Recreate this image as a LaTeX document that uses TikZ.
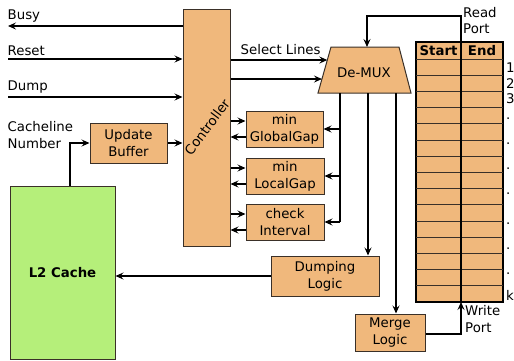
\documentclass[tikz,border=0pt]{standalone}
\usepackage{fontspec}
\setmainfont{DejaVu Sans}
\usetikzlibrary{arrows.meta,calc}

\definecolor{boxfill}{HTML}{F0B87C}
\definecolor{cachefill}{HTML}{B5EF7A}
\definecolor{boxline}{HTML}{3A3028}

\begin{document}
\begin{tikzpicture}[x=1pt,y=1pt,
  every node/.style={font=\fontsize{13.3}{17}\selectfont, inner sep=0pt, text=black},
  blk/.style={draw=boxline, line width=1pt, fill=boxfill, align=center},
  wire/.style={line width=1.3pt, -{Stealth[length=8pt,width=7pt,inset=3pt]}},
  plain/.style={line width=1.3pt},
  lbl/.style={anchor=base west}
]
\useasboundingbox (0,-360) rectangle (514,0);

% ---------- blocks ----------
\node[blk, minimum width=47pt, minimum height=237pt] (ctrl) at (206.5,-127.5) {};
\node[rotate=53] (ctrltext) at (207,-127) {Controller};
\node[blk, minimum width=77pt, minimum height=40pt] (update) at (128.5,-143) {Update\\Buffer};
\node[draw=boxline, line width=1pt, fill=cachefill, minimum width=105pt, minimum height=173pt,
      font=\fontsize{13.3}{17}\selectfont\bfseries] (l2) at (62.5,-272.5) {L2 Cache};
\node[blk, minimum width=77pt, minimum height=36pt] (global) at (284.5,-129) {min\\GlobalGap};
\node[blk, minimum width=78pt, minimum height=36pt] (local) at (285,-176) {min\\LocalGap};
\node[blk, minimum width=78pt, minimum height=36pt] (check) at (285,-222) {check\\Interval};
\node[blk, minimum width=108pt, minimum height=40pt] (dump) at (325,-276) {Dumping\\Logic};
\node[blk, minimum width=70pt, minimum height=37pt] (merge) at (390,-332.5) {Merge\\Logic};

% De-MUX trapezoid
\coordinate (dmbl) at (318,-93);
\coordinate (dmtl) at (331,-47);
\coordinate (dmtr) at (399,-47);
\coordinate (dmbr) at (411,-93);
\draw[blk] (dmbl) -- (dmtl) -- (dmtr) -- (dmbr) -- cycle;
\node (demux) at (364,-73) {De-MUX};

% ---------- table of intervals ----------
\node[draw=black, line width=1.2pt, fill=boxfill, minimum width=87pt, minimum height=260pt] (tbl) at (459.5,-172) {};
\foreach \i in {0,...,14}
  \draw[boxline, line width=1pt] (416,-59-16.2*\i) -- (503,-59-16.2*\i);
\draw[black, line width=1.2pt] (461,-42) -- (461,-302);
\node[font=\fontsize{13.3}{17}\selectfont\bfseries] (hstart) at (438.5,-51) {Start};
\node[font=\fontsize{13.3}{17}\selectfont\bfseries] (hend) at (482,-51) {End};
\node[lbl] (r1) at (506,-72) {1};
\node[lbl] (r2) at (506,-88) {2};
\node[lbl] (r3) at (506,-103) {3};
\foreach \y in {119,144,169,194,224,249,274}
  \node[lbl] at (506,-\y) {.};
\node[lbl] (rk) at (506,-300) {k};

% ---------- external signals ----------
\coordinate (busyend) at (8,-26);
\coordinate (resetin) at (8,-59);
\coordinate (dumpin) at (8,-97);
\node[lbl] (busy) at (7.5,-19) {Busy};
\node[lbl] (reset) at (7.5,-55) {Reset};
\node[lbl] (dumpl) at (7.5,-90) {Dump};
\node[lbl] (cl1) at (7.5,-131) {Cacheline};
\node[lbl] (cl2) at (7.5,-148) {Number};
\draw[wire] (ctrl.west |- busyend) -- (busyend);
\draw[wire] (resetin) -- (ctrl.west |- resetin);
\draw[wire] (dumpin) -- (ctrl.west |- dumpin);

% cacheline number from L2 into the update buffer
\draw[wire] ($(l2.north)+(7.5,0)$) |- (update.west);
\draw[wire] (update.east) -- (ctrl.west |- update.east);

% ---------- controller to De-MUX ----------
\coordinate (sel1) at ($(dmbl)!0.717!(dmtl)$);
\coordinate (sel2) at ($(dmbl)!0.304!(dmtl)$);
\draw[wire] (ctrl.east |- sel1) -- (sel1);
\draw[wire] (ctrl.east |- sel2) -- (sel2);
\node[lbl] (sellbl) at (240.5,-54) {Select Lines};

% ---------- controller <-> evaluation units ----------
\foreach \b in {global,local,check}{
  \draw[wire] ($(ctrl.east |- \b.west)+(0,8)$) -- ($(\b.west)+(0,8)$);
  \draw[wire] ($(\b.west)+(0,-8)$) -- ($(ctrl.east |- \b.west)+(0,-8)$);
}

% ---------- De-MUX outputs ----------
\coordinate (d1) at (340,-93);
\coordinate (d2) at (368,-93);
\coordinate (d3) at (396,-93);
\draw[plain] (d1) -- (d1 |- check.east);
\draw[wire] (d1 |- check.east) -- (check.east);
\draw[wire] (d1 |- local.east) -- (local.east);
\draw[wire] (d1 |- global.east) -- (global.east);
\draw[wire] (d2) -- (d2 |- dump.north);
\draw[wire] (d3) -- (d3 |- merge.north);

% ---------- dump and merge paths ----------
\draw[wire] (dump.west) -- (dump.west -| l2.east);
\coordinate (wport) at (461,-302);
\coordinate (rport) at (461,-42);
\coordinate (rdtop) at (367,-16);
\coordinate (rdin) at (367,-47);
\draw[wire] ($(merge.east)+(0,-1.5)$) -| (wport);
\draw[wire] (rport) |- (rdtop) -- (rdin);
\node[lbl] (rd1) at (463,-17.5) {Read};
\node[lbl] (rd2) at (463,-33.5) {Port};
\node[lbl] (wr1) at (465,-315) {Write};
\node[lbl] (wr2) at (465,-332) {Port};
\end{tikzpicture}
\end{document}
